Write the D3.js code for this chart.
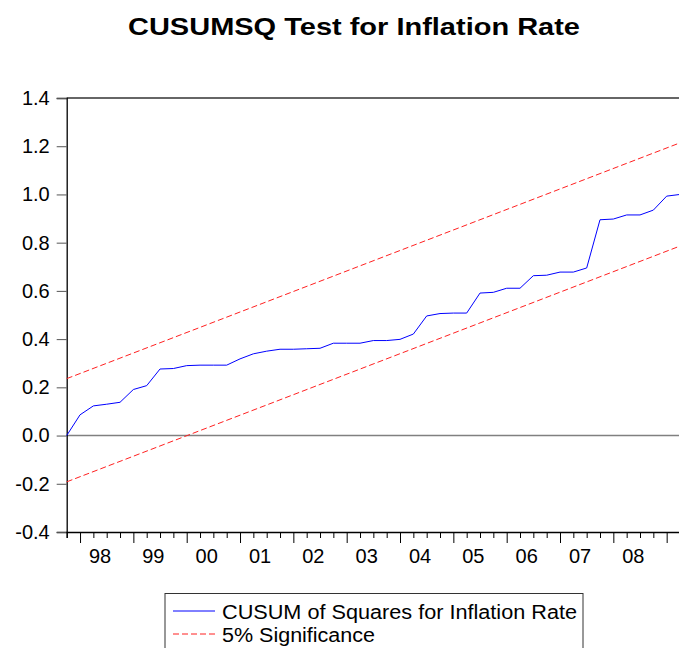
<!DOCTYPE html>
<html lang="en">
<head>
    <meta charset="UTF-8">
    <script src="https://d3js.org/d3.v7.min.js"></script>
    <title>CUSUMSQ</title>
    <style>
        body { margin: 0; background: #fff; }
        text { font-family: "Liberation Sans", Arial, sans-serif; }
    </style>
</head>
<body>
    <svg width="679" height="648" id="mainsvg"></svg>
    <script>
        // quarterly observations, 1997Q4 .. 2009Q2
        const startYear = 1997, startQuarter = 4, nObs = 47;
        const yearLabels = ['98', '99', '00', '01', '02', '03', '04', '05', '06', '07', '08'];
        const cusumsq = [0.000, 0.086, 0.123, 0.130, 0.138, 0.191, 0.207, 0.276, 0.278, 0.290,
            0.292, 0.292, 0.292, 0.318, 0.339, 0.350, 0.358, 0.358, 0.360, 0.362,
            0.383, 0.383, 0.383, 0.394, 0.394, 0.399, 0.421, 0.496, 0.506, 0.508,
            0.508, 0.591, 0.594, 0.611, 0.611, 0.663, 0.665, 0.678, 0.678, 0.695,
            0.895, 0.898, 0.915, 0.915, 0.935, 0.993, 1.000];
        // 5% bounds are straight lines: value at first and last observation
        const upperBound = [0.236, 1.214];
        const lowerBound = [-0.192, 0.786];
        const yTicks = [-0.4, -0.2, 0.0, 0.2, 0.4, 0.6, 0.8, 1.0, 1.2, 1.4];

        const quarters = [];
        for (let i = 0; i < nObs; i++) {
            const q = startQuarter - 1 + i;
            quarters.push((startYear + Math.floor(q / 4)) + 'Q' + (q % 4 + 1));
        }

        const svg = d3.select('#mainsvg');
        const plotLeft = 66.7, plotRight = 680, plotTop = 98, plotBottom = 532;

        const x = d3.scalePoint().domain(quarters).range([plotLeft, plotRight]);
        const y = d3.scaleLinear().domain([-0.4, 1.4]).range([plotBottom, plotTop]);

        // title (glyphs in the original are a bit wider than Arial)
        svg.append('text').text('CUSUMSQ Test for Inflation Rate')
            .attr('x', 128).attr('y', 35)
            .attr('textLength', 452).attr('lengthAdjust', 'spacingAndGlyphs')
            .attr('font-size', 24.5).attr('font-weight', 'bold');

        // top frame
        svg.append('line')
            .attr('x1', plotLeft).attr('x2', plotRight)
            .attr('y1', plotTop).attr('y2', plotTop)
            .attr('stroke', '#333').attr('stroke-width', 1.5);

        // zero line
        svg.append('line')
            .attr('x1', plotLeft).attr('x2', plotRight)
            .attr('y1', y(0)).attr('y2', y(0))
            .attr('stroke', '#808080').attr('stroke-width', 1.5);

        // y axis
        const yAxis = d3.axisLeft(y).tickValues(yTicks).tickSize(10).tickPadding(7)
            .tickFormat(d => d.toFixed(1));
        const gy = svg.append('g').attr('transform', `translate(${plotLeft},0)`).call(yAxis);
        gy.select('.domain').attr('stroke', '#000').attr('stroke-width', 1.3);
        gy.selectAll('.tick line').attr('stroke', '#555');
        gy.selectAll('.tick text').attr('font-size', 20).attr('fill', '#000')
            .attr('font-family', '"Liberation Sans", Arial, sans-serif');

        // x axis, quarterly ticks, longer ticks at Q1
        const xAxis = d3.axisBottom(x).tickSize(6).tickFormat('');
        const gx = svg.append('g').attr('transform', `translate(0,${plotBottom})`).call(xAxis);
        gx.select('.domain').attr('stroke', '#000').attr('stroke-width', 1.3);
        gx.selectAll('.tick line').attr('stroke', '#000')
            .attr('y2', d => d.endsWith('Q1') ? 11 : 6);

        // year labels centred between Q2 and Q3
        const step = x.step();
        svg.append('g').selectAll('text')
            .data(quarters.filter(d => d.endsWith('Q1')).slice(0, yearLabels.length))
            .enter().append('text')
            .text((d, i) => yearLabels[i])
            .attr('x', d => x(d) + 1.5 * step)
            .attr('y', 562.5)
            .attr('text-anchor', 'middle')
            .attr('font-size', 20);

        // bounds
        const ends = [quarters[0], quarters[nObs - 1]];
        const bLine = d3.line().x((d, i) => x(ends[i])).y(d => y(d));
        [upperBound, lowerBound].forEach(b => {
            svg.append('path').attr('d', bLine(b))
                .attr('fill', 'none').attr('stroke', '#ff2020')
                .attr('stroke-width', 1).attr('stroke-dasharray', '6,3');
        });

        // CUSUMSQ line
        const line = d3.line().x((d, i) => x(quarters[i])).y(d => y(d));
        svg.append('path').attr('d', line(cusumsq))
            .attr('fill', 'none').attr('stroke', '#0000ff').attr('stroke-width', 1);

        // legend
        const lg = svg.append('g');
        lg.append('rect').attr('x', 165).attr('y', 593.5).attr('width', 418).attr('height', 80)
            .attr('fill', 'none').attr('stroke', '#333').attr('stroke-width', 1);
        const items = [
            { label: 'CUSUM of Squares for Inflation Rate', color: '#0000ff', dash: null, w: 355 },
            { label: '5% Significance', color: '#ff2020', dash: '6,3', w: 153 }
        ];
        items.forEach((it, i) => {
            const yy = 611 + i * 23;
            lg.append('line').attr('x1', 173).attr('x2', 215).attr('y1', yy).attr('y2', yy)
                .attr('stroke', it.color).attr('stroke-width', 1)
                .attr('stroke-dasharray', it.dash);
            lg.append('text').text(it.label)
                .attr('x', 222).attr('y', yy + 7.5)
                .attr('textLength', it.w).attr('lengthAdjust', 'spacingAndGlyphs')
                .attr('font-size', 20);
        });
    </script>
</body>
</html>
